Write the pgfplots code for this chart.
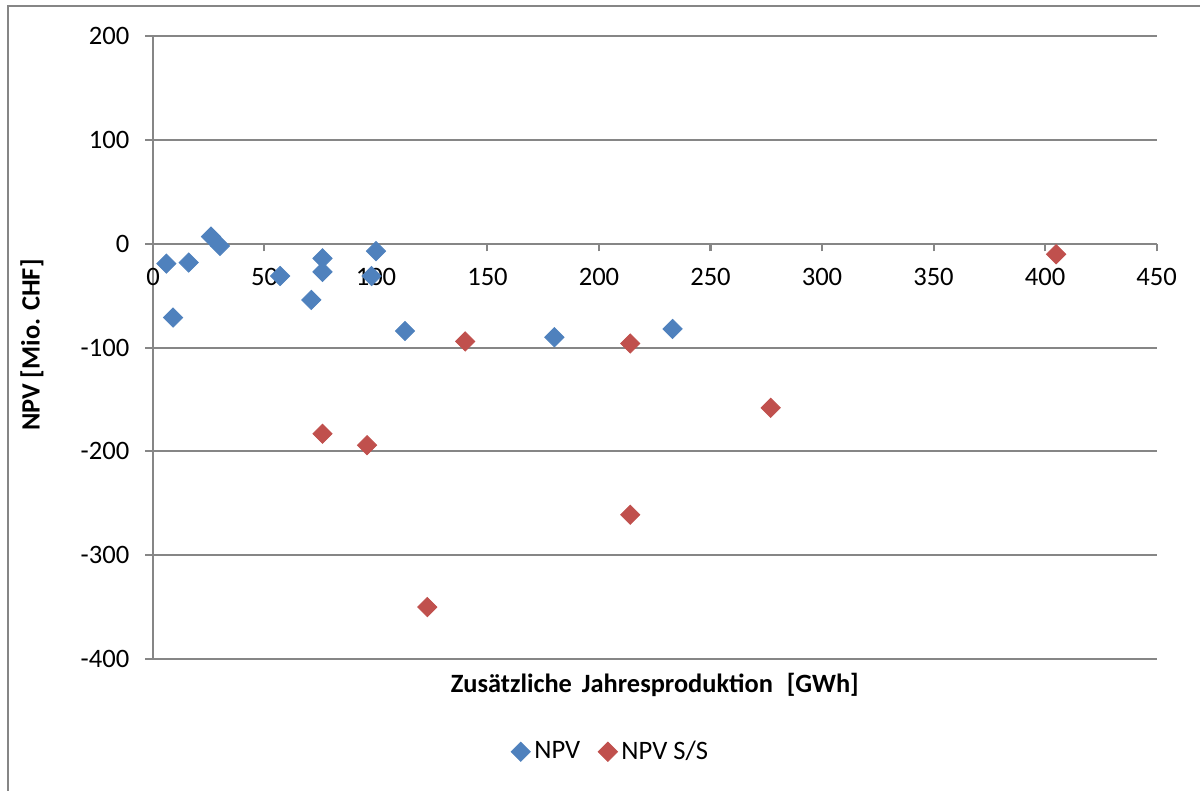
\documentclass[border=0pt]{standalone}
\usepackage{pgfplots}
\pgfplotsset{compat=1.18}
\usepackage{fontspec}
\setmainfont{Carlito}
\definecolor{npvblue}{RGB}{79,129,189}
\definecolor{npvred}{RGB}{192,80,77}
\definecolor{gridgray}{RGB}{134,134,134}
\begin{document}
\begin{tikzpicture}
\path[use as bounding box] (0,0) rectangle (600pt,395.5pt);
\draw[gridgray, line width=1pt] (4pt,-20pt) rectangle (620pt,392.4pt);
\begin{axis}[
  at={(76.5pt,66pt)}, anchor=south west,
  scale only axis, width=501.75pt, height=311.35pt,
  xmin=0, xmax=450, ymin=-400, ymax=200,
  axis x line*=middle, axis y line*=left,
  hide obscured x ticks=false,
  axis line style={gridgray, line width=1pt},
  xtick={0,50,...,450}, ytick={-400,-300,...,200},
  xticklabels={0,50,100,150,200,250,300,350,400,450},
  yticklabels={-400,-300,-200,-100,0,100,200},
  ymajorgrids, grid style={gridgray, line width=1pt},
  tick align=outside, major tick length=3.8pt,
  tick style={gridgray, line width=1pt},
  ticklabel style={font=\fontsize{13.3}{16}\selectfont},
  xticklabel style={yshift=-5pt},
  yticklabel style={xshift=-4.5pt},
  label style={font=\fontsize{13.2}{16}\selectfont\bfseries},
  xlabel={Zusätzliche\hspace{0.15em} Jahresproduktion\hspace{0.3em} [GWh]},
  ylabel={NPV [Mio. CHF]},
  xlabel style={at={(axis description cs:0.500,-0.042)}, anchor=center},
  ylabel style={at={(axis description cs:-0.1206,0.504)}, anchor=center, rotate=0},
  legend style={at={(axis description cs:0.457,-0.149)}, anchor=center, draw=none,
    font=\fontsize{13.3}{16}\selectfont,
    /tikz/every even column/.append style={column sep=7pt}},
  legend image code/.code={\draw[mark repeat=2,mark phase=2,#1] plot coordinates {(0cm,0cm) (0.15cm,0cm) (0.3cm,0cm)};},
  legend columns=2,
  clip=false,
]
\addplot[only marks, mark=square*, mark size=3.4pt, color=npvblue, mark options={rotate=45}]
coordinates {(6,-19) (9,-71) (16,-18) (26,7) (30,-2) (57,-31) (71,-54) (76,-14) (76,-27) (100,-7) (98,-31) (113,-84) (180,-90) (233,-82)};
\addlegendentry{NPV}
\addplot[only marks, mark=square*, mark size=3.4pt, color=npvred, mark options={rotate=45}]
coordinates {(76,-183) (96,-194) (123,-350) (140,-94) (214,-96) (214,-261) (277,-158) (405,-10)};
\addlegendentry{NPV S/S}
\end{axis}
\end{tikzpicture}
\end{document}
